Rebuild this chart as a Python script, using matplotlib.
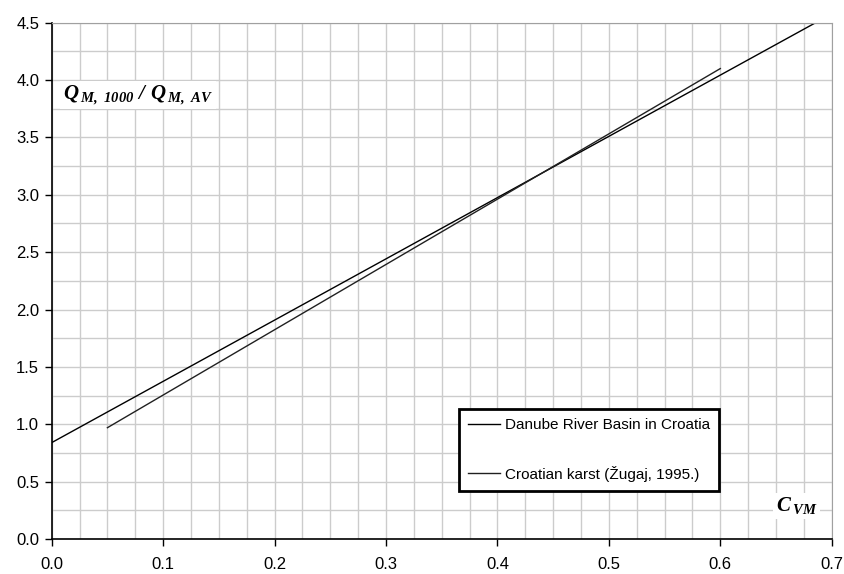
import matplotlib
matplotlib.use("Agg")
from matplotlib import pyplot as plt
from matplotlib.ticker import MultipleLocator

# Дані
danube_x = [0.0, 0.6856]
danube_y = [0.84, 4.5]
karst_x = [0.05, 0.60]
karst_y = [0.97, 4.10]
series_labels = ["Danube River Basin in Croatia", "Croatian karst (Žugaj, 1995.)"]

plt.rcParams['font.family'] = ['Liberation Sans', 'DejaVu Sans']
plt.rcParams['mathtext.fontset'] = 'custom'
plt.rcParams['mathtext.it'] = 'Liberation Serif:italic:bold'
plt.rcParams['mathtext.rm'] = 'Liberation Serif:italic:bold'

fig = plt.figure(figsize=(8.45, 5.74), dpi=100)
ax = fig.add_axes([0.0612, 0.061, 0.9231, 0.8995])

ax.plot(danube_x, danube_y, color='black', lw=1.0, label=series_labels[0])
ax.plot(karst_x, karst_y, color='#202020', lw=1.0, label=series_labels[1])

ax.set_xlim(0, 0.7)
ax.set_ylim(0, 4.5)
ax.xaxis.set_major_locator(MultipleLocator(0.1))
ax.yaxis.set_major_locator(MultipleLocator(0.5))
ax.xaxis.set_minor_locator(MultipleLocator(0.025))
ax.yaxis.set_minor_locator(MultipleLocator(0.25))
ax.xaxis.set_major_formatter(plt.FormatStrFormatter('%.1f'))
ax.yaxis.set_major_formatter(plt.FormatStrFormatter('%.1f'))
ax.grid(True, which='both', color='#cccccc', lw=1.0)
ax.set_axisbelow(True)
ax.tick_params(which='major', direction='out', length=5, width=1, labelsize=12, colors='black')
ax.tick_params(which='minor', length=0)
ax.tick_params(axis='x', pad=8)
ax.tick_params(axis='y', pad=4)

for s in ['top', 'right']:
    ax.spines[s].set_color('#a0a0a0')
for s in ['left', 'bottom']:
    ax.spines[s].set_color('black')
    ax.spines[s].set_linewidth(1.2)

ax.text(0.014, 0.86, r'$Q\,_{M,\ 1000}\ /\ Q\,_{M,\ AV}$', transform=ax.transAxes,
        fontsize=15, va='center', ha='left',
        bbox=dict(facecolor='white', edgecolor='none', pad=2))
ax.text(0.928, 0.064, r'$C\,_{VM}$', transform=ax.transAxes,
        fontsize=15, va='center', ha='left',
        bbox=dict(facecolor='white', edgecolor='none', pad=2))

leg = ax.legend(loc='lower left', bbox_to_anchor=(0.522, 0.0935), fontsize=11,
                fancybox=False, framealpha=1, edgecolor='black', borderaxespad=0,
                handlelength=2.1, handletextpad=0.3, labelspacing=2.2,
                borderpad=0.6)
leg.get_frame().set_linewidth(2.0)

fig.savefig('out.png', dpi=100)
